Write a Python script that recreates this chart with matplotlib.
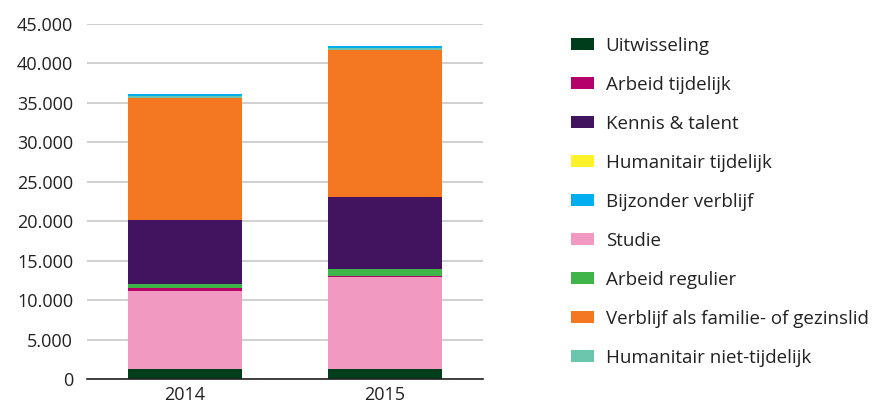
import matplotlib
matplotlib.use("Agg")
import matplotlib.pyplot as plt
from matplotlib.ticker import FuncFormatter, MultipleLocator
import numpy as np

years = ["2014", "2015"]
# stacking order bottom -> top
uitwisseling = [1300, 1300]
studie = [9900, 11600]
arbeid_tijdelijk = [380, 150]
arbeid_regulier = [470, 900]
kennis_talent = [8100, 9100]
verblijf_familie = [15500, 18650]
humanitair_niet_tijdelijk = [250, 200]
humanitair_tijdelijk = [0, 0]
bijzonder_verblijf = [250, 300]

series = [
    ("Uitwisseling", uitwisseling, "#003d1b"),
    ("Studie", studie, "#f199c1"),
    ("Arbeid tijdelijk", arbeid_tijdelijk, "#b5006a"),
    ("Arbeid regulier", arbeid_regulier, "#3fb549"),
    ("Kennis & talent", kennis_talent, "#42145f"),
    ("Verblijf als familie- of gezinslid", verblijf_familie, "#f47721"),
    ("Humanitair niet-tijdelijk", humanitair_niet_tijdelijk, "#6cc6ad"),
    ("Humanitair tijdelijk", humanitair_tijdelijk, "#fff22a"),
    ("Bijzonder verblijf", bijzonder_verblijf, "#00aeef"),
]
legend_order = ["Uitwisseling", "Arbeid tijdelijk", "Kennis & talent",
                "Humanitair tijdelijk", "Bijzonder verblijf", "Studie",
                "Arbeid regulier", "Verblijf als familie- of gezinslid",
                "Humanitair niet-tijdelijk"]

plt.rcParams['font.family'] = ['Open Sans', 'DejaVu Sans']
fig = plt.figure(figsize=(8.79, 4.08), dpi=100)
ax = fig.add_axes([87/879, 29/408, (483-87)/879, (379-24)/408])

x = np.arange(len(years))
bottom = np.zeros(len(years))
handles = {}
for name, vals, col in series:
    h = ax.bar(x, vals, width=0.57, bottom=bottom, color=col, label=name, zorder=3)
    handles[name] = h
    bottom += np.array(vals)

ax.set_xlim(-0.49, 1.49)
ax.set_ylim(0, 45000)
ax.yaxis.set_major_locator(MultipleLocator(5000))
ax.yaxis.set_major_formatter(FuncFormatter(lambda v, p: f"{int(v):,}".replace(",", ".")))
ax.grid(axis='y', color='#c8c8c8', linewidth=1.2, zorder=0)
ax.set_axisbelow(True)
for s in ["top", "right", "left"]:
    ax.spines[s].set_visible(False)
ax.spines["bottom"].set_color("#222222")
ax.spines["bottom"].set_linewidth(1.2)
ax.spines["bottom"].set_zorder(4)
ax.tick_params(axis='both', length=0, labelsize=13, colors='#222222', pad=10)
ax.tick_params(axis='x', pad=5)
ax.set_xticks(x)
ax.set_xticklabels(years)

leg = fig.legend([handles[n] for n in legend_order], legend_order,
                 loc='upper left', bbox_to_anchor=(571/879, 1 - 37/408),
                 frameon=False, fontsize=13.5, handlelength=1.23, handleheight=0.59,
                 handletextpad=0.62, labelspacing=1.12, borderaxespad=0, borderpad=0,
                 labelcolor='#222222')

fig.savefig("out.png", dpi=100)
